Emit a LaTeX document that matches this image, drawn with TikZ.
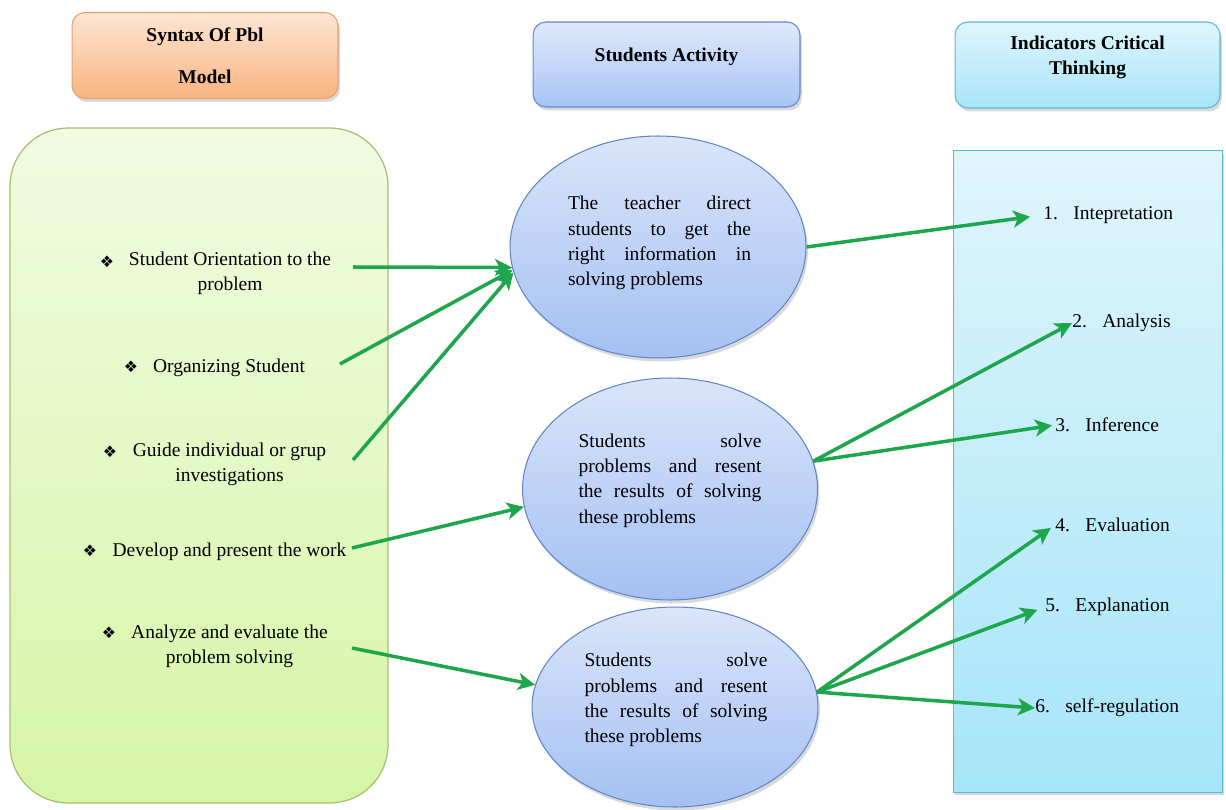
\documentclass[tikz,border=0pt]{standalone}
\usepackage{fontspec}
\setmainfont{Liberation Serif}
\newfontfamily\tnr{Liberation Serif}
\newfontfamily\dejavu{DejaVu Sans}
\usetikzlibrary{shapes.geometric,arrows.meta,shadows}
\definecolor{arrowgreen}{RGB}{30,166,76}
\definecolor{orTop}{RGB}{253,230,212}
\definecolor{orBot}{RGB}{248,180,128}
\definecolor{orLine}{RGB}{232,160,110}
\definecolor{blTop}{RGB}{222,233,251}
\definecolor{blBot}{RGB}{168,196,245}
\definecolor{blLine}{RGB}{100,138,205}
\definecolor{cyTop}{RGB}{224,245,252}
\definecolor{cyBot}{RGB}{166,229,248}
\definecolor{cyLine}{RGB}{90,185,215}
\definecolor{grTop}{RGB}{241,252,226}
\definecolor{grBot}{RGB}{214,245,166}
\definecolor{grLine}{RGB}{166,190,112}
\definecolor{elTop}{RGB}{218,229,250}
\definecolor{elBot}{RGB}{164,192,242}
\definecolor{elLine}{RGB}{96,134,200}
\begin{document}
\begin{tikzpicture}[x=0.02cm,y=-0.02cm,
  font=\tnr\fontsize{11.1}{14.2}\selectfont,
  shad/.style={drop shadow={opacity=0.3,shadow xshift=0.04cm,shadow yshift=-0.07cm}},
  headbox/.style={draw, line width=0.6pt, rounded corners=0.26cm, inner sep=0pt, shad},
  orbox/.style={headbox, draw=orLine, top color=orTop, bottom color=orBot, minimum width=5.32cm, minimum height=1.72cm},
  blbox/.style={headbox, draw=blLine, top color=blTop, bottom color=blBot, minimum width=5.34cm, minimum height=1.70cm},
  cybox/.style={headbox, draw=cyLine, top color=cyTop, bottom color=cyBot, minimum width=5.30cm, minimum height=1.72cm},
  headtext/.style={font=\tnr\fontsize{11.1}{14.2}\selectfont\bfseries, align=center, inner sep=0pt},
  ell/.style={ellipse, draw=elLine, line width=0.6pt, top color=elTop, bottom color=elBot, inner sep=0pt, shad},
  etext/.style={text width=3.66cm, align=justify, inner sep=0pt, font=\tnr\fontsize{11.1}{14.4}\selectfont},
  item/.style={align=center, inner sep=0pt},
  bul/.style={inner sep=0pt, font=\dejavu\fontsize{9}{9}\selectfont},
  ind/.style={anchor=west, inner sep=0pt},
  arr/.style={draw=arrowgreen, line width=2pt, -{Stealth[length=0.34cm,width=0.34cm,inset=0.09cm]}}
]
\useasboundingbox (0,0) rectangle (1226,810);

% panels
\node[draw=grLine, line width=0.7pt, rounded corners=1.16cm, top color=grTop, bottom color=grBot,
      minimum width=7.56cm, minimum height=13.5cm, inner sep=0pt] (green) at (199,465.5) {};
\node[draw=cyLine, line width=0.5pt, top color=cyTop, bottom color=cyBot, shad,
      minimum width=5.38cm, minimum height=12.84cm, inner sep=0pt] (cyan) at (1087.5,471) {};

% header boxes
\node[orbox] (h1) at (205,55.5) {};
\node[headtext] (h1t) at (205,56) {Syntax Of Pbl\\[9.6pt]Model};
\node[blbox] (h2) at (666.5,64.5) {};
\node[headtext] (h2t) at (666.5,57) {Students Activity};
\node[cybox] (h3) at (1087.5,65) {};
\node[headtext] (h3t) at (1087.5,57.5) {Indicators Critical\\Thinking};

% ellipses
\node[ell, minimum width=5.92cm, minimum height=4.44cm] (e1) at (658,247) {};
\node[ell, minimum width=5.90cm, minimum height=4.44cm] (e2) at (670,489) {};
\node[ell, minimum width=5.72cm, minimum height=4.00cm] (e3) at (675,707) {};

\node[etext] (e1t) at (659.5,243) {\makebox[\linewidth][s]{The teacher direct}\\
  \makebox[\linewidth][s]{students to get the}\\
  \makebox[\linewidth][s]{right information in}\\
  solving problems};
\node[etext] (e2t) at (670,480.5) {\makebox[\linewidth][s]{Students solve}\\
  \makebox[\linewidth][s]{problems and resent}\\
  \makebox[\linewidth][s]{the results of solving}\\
  these problems};
\node[etext] (e3t) at (676,700) {\makebox[\linewidth][s]{Students solve}\\
  \makebox[\linewidth][s]{problems and resent}\\
  \makebox[\linewidth][s]{the results of solving}\\
  these problems};

% left items
\node[item] (l1) at (230,273.5) {Student Orientation to the\\problem};
\node[bul] (b1) at (107,262) {❖};
\node[item] (l2) at (229,368) {Organizing Student};
\node[bul] (b2) at (131,367) {❖};
\node[item] (l3) at (229.5,464.5) {Guide individual or grup\\investigations};
\node[bul] (b3) at (110,452) {❖};
\node[item] (l4) at (229.5,552) {Develop and present the work};
\node[bul] (b4) at (90,551) {❖};
\node[item] (l5) at (229.5,646.5) {Analyze and evaluate the\\problem solving};
\node[bul] (b5) at (109,633) {❖};

% indicators
\node[ind] (t1) at (1043,215) {\makebox[0.6cm][l]{1.}Intepretation};
\node[ind] (t2) at (1072,323) {\makebox[0.6cm][l]{2.}Analysis};
\node[ind] (t3) at (1055,425) {\makebox[0.6cm][l]{3.}Inference};
\node[ind] (t4) at (1055,525) {\makebox[0.6cm][l]{4.}Evaluation};
\node[ind] (t5) at (1045,607) {\makebox[0.6cm][l]{5.}Explanation};
\node[ind] (t6) at (1035,708) {\makebox[0.6cm][l]{6.}self-regulation};

% arrow start points
\coordinate (s1) at (353,267);
\coordinate (s2) at (340,364);
\coordinate (s3) at (353,460);
\coordinate (s4) at (352,548);
\coordinate (s5) at (352,648);

% arrows left -> ellipses
\draw[arr] (s1) -- (e1.188);
\draw[arr] (s2) -- (e1.189);
\draw[arr] (s3) -- (e1.190);
\draw[arr] (s4) -- (e2.187);
\draw[arr] (s5) -- (e3.171);

% arrows ellipses -> indicators
\draw[arr, shorten >=0.26cm] (e1.east) -- (t1.west);
\draw[arr] (e2.11) -- (t2.west);
\draw[arr, shorten >=0.06cm] (e2.11) -- (t3.west);
\draw[arr, shorten >=0.1cm] (e3.6) -- (t4.west);
\draw[arr, shorten >=0.16cm] (e3.6) -- (t5.west);
\draw[arr] (e3.6) -- (t6.west);
\end{tikzpicture}
\end{document}
